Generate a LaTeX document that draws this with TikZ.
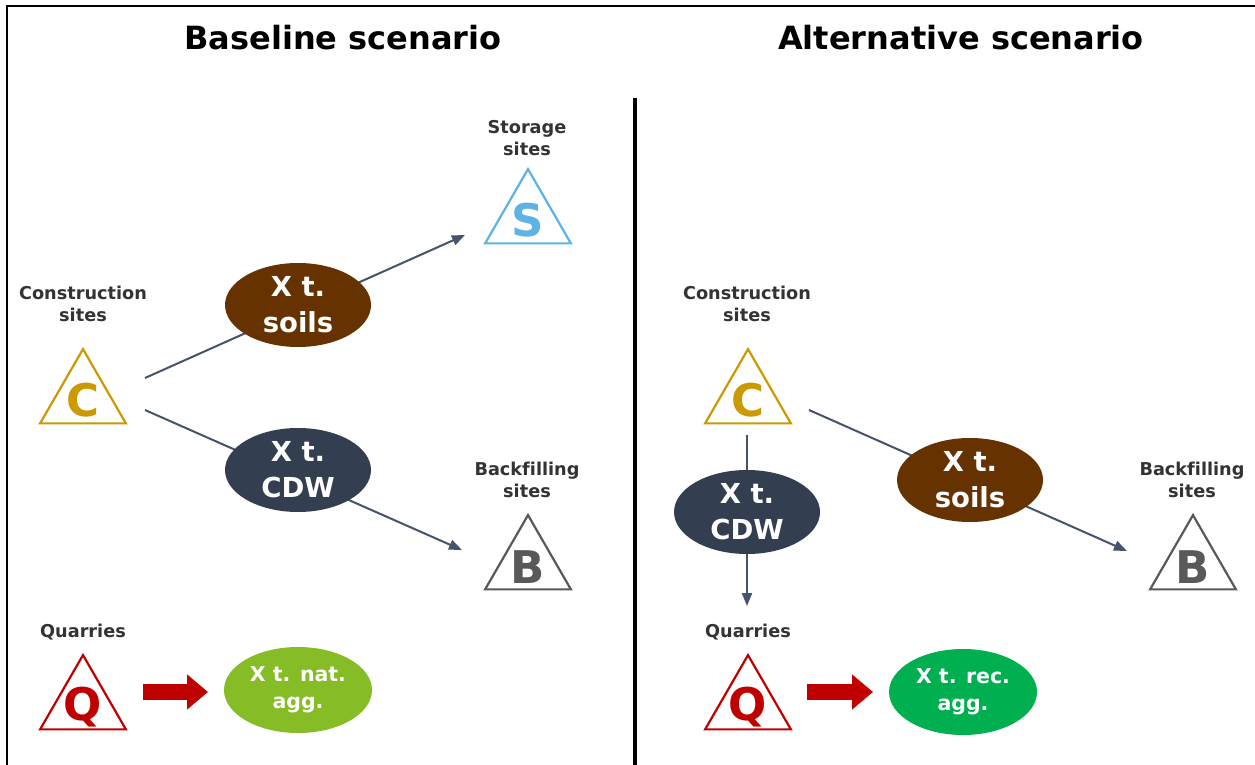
\documentclass[tikz,border=0pt]{standalone}
\usepackage{fontspec}
\setmainfont{DejaVu Sans}[Ligatures=NoCommon]
\usetikzlibrary{shapes.geometric,arrows.meta}
\definecolor{cbrown}{HTML}{663300}
\definecolor{cslate}{HTML}{333F50}
\definecolor{carrow}{HTML}{44546A}
\definecolor{cnat}{HTML}{86BC25}
\definecolor{crec}{HTML}{00B050}
\definecolor{cred}{HTML}{C00000}
\definecolor{cgold}{HTML}{CC9A00}
\definecolor{cblue}{HTML}{5CB3E4}
\definecolor{cgray}{HTML}{595959}
\definecolor{ctext}{HTML}{333333}
\tikzset{
  title/.style={font=\bfseries\fontsize{32}{38}\selectfont, text=black},
  lab/.style={font=\bfseries\fontsize{17.7}{21.5}\selectfont, text=ctext, align=center, inner sep=0pt},
  tri/.style={regular polygon, regular polygon sides=3, minimum size=99pt, inner sep=0pt, draw=#1, line width=2.2pt,
     label={[text=#1, font=\bfseries\fontsize{45}{45}\selectfont, yshift=-2pt]center:\trilet}},
  blob/.style={ellipse, fill=#1, text=white, inner sep=0pt, minimum width=146pt, minimum height=84pt, align=center,
     font=\bfseries\fontsize{27.5}{36}\selectfont},
  smallblob/.style={ellipse, fill=#1, text=white, inner sep=0pt, minimum width=148pt, minimum height=86pt, align=center,
     font=\bfseries\fontsize{20.5}{27}\selectfont},
  flow/.style={draw=carrow, line width=2pt, -{Triangle[length=13pt,width=10pt]}},
  fat/.style={draw=cred, line width=16pt, -{Triangle[length=21pt,width=34pt]}},
}
\newcommand{\trilet}{}
\begin{document}
\begin{tikzpicture}[x=1pt,y=-1pt]
\useasboundingbox (0,0) rectangle (1255,765);
\fill[white] (0,0) rectangle (1255,765);
% frame and divider
\draw[line width=2pt] (7,770) -- (7,6) -- (1260,6);
\draw[line width=4pt] (635,98) -- (635,770);
% titles
\node[title] (t1) at (343,38) {Baseline scenario};
\node[title] (t2) at (961,38) {Alternative scenario};

% ---------- Baseline ----------
\renewcommand{\trilet}{C}
\node[tri=cgold] (C1) at (83,398.6) {};
\renewcommand{\trilet}{S}
\node[tri=cblue] (S1) at (528,218.6) {};
\renewcommand{\trilet}{B}
\node[tri=cgray] (B1) at (528,564.6) {};
\renewcommand{\trilet}{Q}
\node[tri=cred] (Q1) at (83,704.6) {};
\node[lab] (lc1) at (83,304) {Construction\\sites};
\node[lab] (ls1) at (527,138) {Storage\\sites};
\node[lab] (lb1) at (527,480) {Backfilling\\sites};
\node[lab] (lq1) at (83,632) {Quarries};

\coordinate (c1a) at (145,378);
\coordinate (s1a) at (465,235);
\coordinate (c1b) at (145,410);
\coordinate (b1a) at (462,550);
\draw[flow] (c1a) -- (s1a);
\draw[flow] (c1b) -- (b1a);
\node[blob=cbrown] (soil1) at (298,305) {X t.\\soils};
\node[blob=cslate] (cdw1) at (298,470) {X t.\\CDW};
\node[smallblob=cnat] (nat) at (298,690) {X t. nat.\\agg.};
\coordinate (q1a) at (143,692);
\coordinate (n1a) at (208,692);
\draw[fat] (q1a) -- (n1a);

% ---------- Alternative ----------
\renewcommand{\trilet}{C}
\node[tri=cgold] (C2) at (748,398.6) {};
\renewcommand{\trilet}{B}
\node[tri=cgray] (B2) at (1193,564.6) {};
\renewcommand{\trilet}{Q}
\node[tri=cred] (Q2) at (748,704.6) {};
\node[lab] (lc2) at (747,304) {Construction\\sites};
\node[lab] (lb2) at (1192,480) {Backfilling\\sites};
\node[lab] (lq2) at (748,632) {Quarries};

\coordinate (c2a) at (747,435);
\coordinate (q2a) at (747,606);
\coordinate (c2b) at (809,410);
\coordinate (b2a) at (1127,551);
\draw[flow] (c2a) -- (q2a);
\draw[flow] (c2b) -- (b2a);
\node[blob=cslate] (cdw2) at (747,512) {X t.\\CDW};
\node[blob=cbrown] (soil2) at (970,480) {X t.\\soils};
\node[smallblob=crec] (rec) at (963,692) {X t. rec.\\agg.};
\coordinate (q2b) at (807,692);
\coordinate (r2a) at (873,692);
\draw[fat] (q2b) -- (r2a);
\end{tikzpicture}
\end{document}
